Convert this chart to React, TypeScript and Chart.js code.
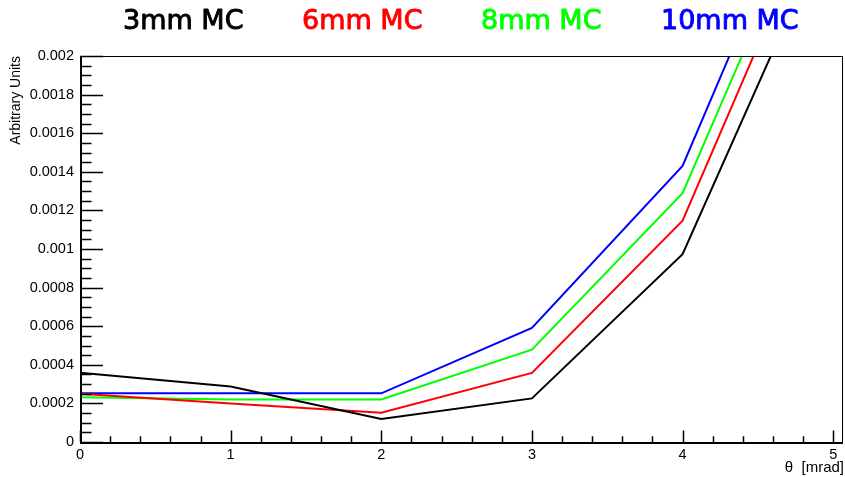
import React, { useEffect, useRef } from "react";
import { Chart, registerables } from "chart.js";

Chart.register(...registerables);

// ---- data ----
const thetaMrad = [0, 1, 2, 3, 4, 5];
const mc3mm = [0.000359, 0.000287, 0.000119, 0.000226, 0.000973, 0.002726];
const mc6mm = [0.00025, 0.0002, 0.000152, 0.000358, 0.001147, 0.002958];
const mc8mm = [0.000232, 0.00022, 0.00022, 0.000478, 0.001289, 0.003094];
const mc10mm = [0.000252, 0.000252, 0.000252, 0.000591, 0.00143, 0.003263];

const seriesLabels = ["3mm MC", "6mm MC", "8mm MC", "10mm MC"];
const seriesColors = ["#000000", "#ff0000", "#00ff00", "#0000ff"];

const xTickValues = [0, 1, 2, 3, 4, 5];
const xTickLabels = ["0", "1", "2", "3", "4", "5"];
const yTickValues = [0, 0.0002, 0.0004, 0.0006, 0.0008, 0.001, 0.0012, 0.0014, 0.0016, 0.0018, 0.002];
const yTickLabels = ["0", "0.0002", "0.0004", "0.0006", "0.0008", "0.001", "0.0012", "0.0014", "0.0016", "0.0018", "0.002"];

const xTitle = "\u03b8  [mrad]";
const yTitle = "Arbitrary Units";

// ---- styling ----
const legendLeft = [123, 302, 481, 661];
const legendBaseline = 28.5;

const rootPlugin = {
  id: "rootFrame",
  afterDraw(chart: any) {
    const { ctx, chartArea: a, scales } = chart;
    const x = scales.x;
    const y = scales.y;
    ctx.save();
    // frame
    ctx.strokeStyle = "#000";
    ctx.lineWidth = 1;
    ctx.strokeRect(a.left + 0.5, a.top + 0.5, a.right - a.left - 1, a.bottom - a.top);
    ctx.lineWidth = 2;
    ctx.beginPath();
    ctx.moveTo(a.left + 1, a.top);
    ctx.lineTo(a.left + 1, a.bottom + 1);
    ctx.lineTo(a.right, a.bottom + 1);
    ctx.stroke();
    // x ticks (inward)
    ctx.lineWidth = 1.5;
    ctx.beginPath();
    const xMajorLen = 11.6;
    for (let i = 0; i <= 25; i++) {
      const v = i * 0.2;
      const px = Math.round(x.getPixelForValue(v)) + 0.5;
      const len = i % 5 === 0 ? xMajorLen : xMajorLen / 2;
      ctx.moveTo(px, a.bottom);
      ctx.lineTo(px, a.bottom - len);
    }
    // y ticks (inward)
    const yMajorLen = 23;
    for (let i = 0; i <= 40; i++) {
      const v = i * 0.00005;
      const py = Math.round(y.getPixelForValue(v)) + 0.5;
      const len = i % 4 === 0 ? yMajorLen : yMajorLen / 2;
      ctx.moveTo(a.left, py);
      ctx.lineTo(a.left + len, py);
    }
    ctx.stroke();

    // axis titles
    ctx.fillStyle = "#000";
    ctx.font = "15px 'Liberation Sans', Arial, sans-serif";
    ctx.textAlign = "right";
    ctx.textBaseline = "alphabetic";
    ctx.fillText(xTitle, a.right + 1, 472);
    ctx.save();
    ctx.font = "14px 'Liberation Sans', Arial, sans-serif";
    ctx.translate(20, a.top);
    ctx.rotate(-Math.PI / 2);
    ctx.textAlign = "right";
    ctx.fillText(yTitle, 0, 0);
    ctx.restore();

    // legend
    ctx.font = "27px 'DejaVu Sans', sans-serif";
    ctx.textAlign = "left";
    ctx.lineWidth = 0.9;
    ctx.lineJoin = "round";
    chart.data.datasets.forEach((ds: any, i: number) => {
      ctx.fillStyle = ds.borderColor;
      ctx.strokeStyle = ds.borderColor;
      ctx.fillText(ds.label, legendLeft[i], legendBaseline);
      ctx.strokeText(ds.label, legendLeft[i], legendBaseline);
    });
    ctx.restore();
  },
};

export default function App() {
  const canvasRef = useRef<HTMLCanvasElement | null>(null);

  useEffect(() => {
    const canvas = canvasRef.current;
    if (!canvas) return;
    const series = [mc3mm, mc6mm, mc8mm, mc10mm];
    const chart = new Chart(canvas, {
      type: "line",
      data: {
        datasets: series.map((vals, i) => ({
          label: seriesLabels[i],
          data: thetaMrad.map((t, j) => ({ x: t, y: vals[j] })),
          borderColor: seriesColors[i],
          backgroundColor: seriesColors[i],
          borderWidth: 2,
          pointRadius: 0,
          tension: 0,
          fill: false,
          clip: 0,
        })),
      },
      options: {
        animation: false,
        responsive: false,
        devicePixelRatio: 1,
        layout: { padding: { top: 56, right: 2, left: 0, bottom: 0 } },
        plugins: {
          legend: { display: false },
          tooltip: { enabled: false },
        },
        scales: {
          x: {
            type: "linear",
            min: 0,
            max: 5.065,
            grid: { display: false, drawTicks: false },
            border: { display: false },
            ticks: {
              color: "#000",
              font: { family: "'Liberation Sans', Arial, sans-serif", size: 14.5 },
              padding: 4,
              maxRotation: 0,
              autoSkip: false,
              callback: (_v: any, i: number) => xTickLabels[i],
            },
            afterBuildTicks: (s: any) => {
              s.ticks = xTickValues.map((v) => ({ value: v }));
            },
            afterFit: (s: any) => {
              s.height = 35;
            },
          },
          y: {
            type: "linear",
            min: 0,
            max: 0.002,
            grid: { display: false, drawTicks: false },
            border: { display: false },
            ticks: {
              color: "#000",
              font: { family: "'Liberation Sans', Arial, sans-serif", size: 14.5 },
              padding: 6,
              autoSkip: false,
              callback: (_v: any, i: number) => yTickLabels[i],
            },
            afterBuildTicks: (s: any) => {
              s.ticks = yTickValues.map((v) => ({ value: v }));
            },
            afterFit: (s: any) => {
              s.width = 80;
            },
          },
        },
      },
      plugins: [rootPlugin],
    } as any);
    return () => chart.destroy();
  }, []);

  return (
    <div style={{ position: "absolute", left: 0, top: 0, width: 845, height: 477, background: "#fff" }}>
      <canvas ref={canvasRef} width={845} height={477} style={{ display: "block" }} />
    </div>
  );
}
